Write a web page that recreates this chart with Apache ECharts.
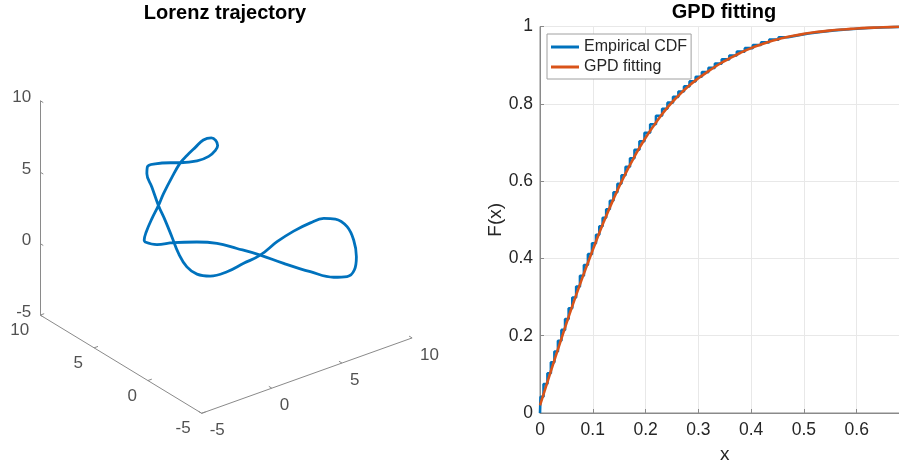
<!DOCTYPE html>
<html><head><meta charset="utf-8">
<script src="https://cdn.jsdelivr.net/npm/echarts@6/dist/echarts.min.js"></script>
<style>html,body{margin:0;padding:0;background:#fff}#c{width:899px;height:468px}</style>
</head><body><div id="c"></div>
<script>
// ---------- Left panel: Lorenz trajectory (3D points) ----------
const lorenzX = [-3.66,-2.82,-2.02,-0.74,0.31,1.35,2.63,3.91,5.43,6.71,7.67,8.19,8.33,8.52,8.05,7.60,6.77,6.20,5.01,4.21,3.01,2.21,1.41,0.21,-0.35,-1.07,-1.28,-1.75,-1.85,-2.33,-2.41,-2.77,-2.34,-1.79,-0.33,0.38,1.96,2.79,3.65,3.81,3.36,2.79,2.22,1.24,0.77,-0.21,-1.20,-1.94,-2.41,-3.20,-3.73,-3.66];
const lorenzY = [2,2,1.5,1,0.5,0,-0.5,-1,-1.5,-2,-2,-2,-2,-1.5,-1.5,-1,-1,-0.5,-0.5,0,0,0.5,1,1,1.5,1.5,2,2,2.5,2.5,3,3,3.5,3.5,4,4,4.5,4.5,5,5,5,5,5,4.5,4.5,4,3.5,3,3,2.5,2,2];
const lorenzZ = [3.31,2.83,2.92,2.74,2.50,2.01,1.33,0.53,-0.36,-0.97,-1.26,-0.97,-0.10,0.77,1.87,2.33,2.67,2.33,2.17,1.48,0.96,0.44,-0.10,0.02,0.13,0.89,1.67,2.99,3.96,5.17,6.25,7.31,7.44,7.44,6.77,6.52,5.86,5.89,5.78,6.07,6.76,6.81,6.49,6.50,6.16,5.72,5.14,4.81,4.05,3.62,3.45,3.31];
const axis3dTicks = [-5, 0, 5, 10];
const axis3dMin = -5, axis3dMax = 10;
const viewAz = -37.5, viewEl = 30;

// ---------- Right panel: GPD fitting ----------
const ecdfX = [0,0.001,0.0067,0.0141,0.0206,0.0273,0.034,0.0406,0.0475,0.0543,0.0612,0.0685,0.0757,0.0832,0.0908,0.0985,0.1061,0.1124,0.1187,0.1254,0.1323,0.1392,0.1467,0.1543,0.1621,0.1705,0.179,0.1884,0.198,0.2087,0.2197,0.2314,0.2415,0.252,0.2622,0.2728,0.2833,0.2949,0.3067,0.3192,0.3313,0.3443,0.3587,0.3729,0.388,0.4032,0.4188,0.4342,0.452,0.47,0.488,0.509,0.532,0.5573,0.586,0.622,0.658,0.7];
const ecdfF = [0,0.042,0.075,0.103,0.131,0.159,0.187,0.215,0.243,0.271,0.299,0.327,0.355,0.383,0.411,0.439,0.461,0.483,0.505,0.527,0.549,0.571,0.593,0.615,0.637,0.659,0.681,0.703,0.725,0.747,0.769,0.787,0.803,0.818,0.832,0.845,0.858,0.870,0.882,0.893,0.904,0.915,0.925,0.935,0.944,0.952,0.959,0.966,0.972,0.977,0.982,0.986,0.990,0.993,0.996,0.998,1.0,1.0];
const gpdX = [0,0.02,0.04,0.06,0.08,0.10,0.12,0.14,0.16,0.18,0.20,0.22,0.24,0.26,0.28,0.30,0.32,0.34,0.36,0.38,0.40,0.42,0.44,0.46,0.48,0.50,0.52,0.54,0.56,0.58,0.60,0.62,0.64,0.66,0.68,0.70];
const gpdF = [0.02,0.106,0.19,0.272,0.349,0.422,0.492,0.556,0.614,0.666,0.712,0.752,0.788,0.818,0.844,0.866,0.885,0.903,0.918,0.932,0.944,0.954,0.963,0.970,0.976,0.981,0.985,0.988,0.991,0.993,0.995,0.9965,0.9975,0.9985,0.9992,0.9996];

// ---------- rendering ----------
const FONT = '"Liberation Sans", Arial, Helvetica, sans-serif';
const TXT = '#262626', AX = '#8a8a8a';
const az = viewAz * Math.PI / 180, el = viewEl * Math.PI / 180;
function proj(x, y, z) {
  return [x * Math.cos(az) + y * Math.sin(az),
          -x * Math.sin(az) * Math.sin(el) + y * Math.cos(az) * Math.sin(el) + z * Math.cos(el)];
}
const lo = axis3dMin, hi = axis3dMax, tl = 0.28;
const traj = lorenzX.map((x, i) => proj(x, lorenzY[i], lorenzZ[i]));
const axisSegs = [
  [[lo, hi, lo], [lo, hi, hi]],
  [[lo, hi, lo], [lo, lo, lo]],
  [[lo, lo, lo], [hi, lo, lo]]
].map(s => ({coords: s.map(p => proj(p[0], p[1], p[2]))}));
const tickSegs = [];
axis3dTicks.forEach(t => {
  tickSegs.push({coords: [proj(lo, hi, t), proj(lo, hi - tl, t)]});
  tickSegs.push({coords: [proj(lo, t, lo), proj(lo + tl, t, lo)]});
  tickSegs.push({coords: [proj(t, lo, lo), proj(t, lo + tl, lo)]});
});
function labelSeries(pts, align, offset) {
  return {
    type: 'scatter', xAxisIndex: 0, yAxisIndex: 0, silent: true,
    symbolSize: 0, itemStyle: {color: 'rgba(0,0,0,0)'},
    data: pts,
    label: {show: true, position: 'inside', formatter: '{b}', align: align, verticalAlign: 'middle',
            offset: offset, color: TXT, fontSize: 17, fontFamily: FONT}
  };
}
const zLab = axis3dTicks.map(t => ({name: String(t), value: proj(lo, hi, t)}));
const yLab = axis3dTicks.map(t => ({name: String(t), value: proj(lo, t, lo)}));
const xLab = axis3dTicks.map(t => ({name: String(t), value: proj(t, lo, lo)}));

const chart = echarts.init(document.getElementById('c'), null, {renderer: 'canvas'});
chart.setOption({
  animation: false,
  backgroundColor: '#fff',
  title: [
    {text: 'Lorenz trajectory', left: 225, top: 3, padding: 0, textAlign: 'center',
     textStyle: {fontFamily: FONT, fontSize: 20, fontWeight: 'bold', color: '#000'}},
    {text: 'GPD fitting', left: 724, top: 2, padding: 0, textAlign: 'center',
     textStyle: {fontFamily: FONT, fontSize: 20, fontWeight: 'bold', color: '#000'}}
  ],
  legend: {
    data: ['Empirical CDF', 'GPD fitting'], orient: 'vertical', left: 547, top: 34,
    padding: [5, 4, 4, 4], itemGap: 4, itemWidth: 28, itemHeight: 3, icon: 'rect',
    backgroundColor: '#fff', borderColor: '#a0a0a0', borderWidth: 1, borderRadius: 0,
    textStyle: {fontFamily: FONT, fontSize: 16, color: TXT}
  },
  grid: [
    {left: 14.7, top: 69.5, width: 442, height: 363, outerBoundsMode: 'none', containLabel: false},
    {left: 540, top: 26.5, width: 369.5, height: 386.5, outerBoundsMode: 'none', containLabel: false,
     show: true, borderColor: AX, borderWidth: 1, backgroundColor: 'transparent'}
  ],
  xAxis: [
    {gridIndex: 0, type: 'value', min: -11.5, max: 13.5, show: false},
    {gridIndex: 1, type: 'value', min: 0, max: 0.7, interval: 0.1,
     name: 'x', nameLocation: 'middle', nameGap: 32,
     nameTextStyle: {fontFamily: FONT, fontSize: 19, color: TXT},
     axisLine: {show: true, lineStyle: {color: AX, width: 1}},
     axisTick: {show: true, inside: true, length: 4, lineStyle: {color: AX}},
     axisLabel: {fontFamily: FONT, fontSize: 17.5, color: TXT, margin: 8, showMaxLabel: false},
     splitLine: {show: true, lineStyle: {color: '#e8e8e8', width: 1}}}
  ],
  yAxis: [
    {gridIndex: 0, type: 'value', min: -9, max: 13, show: false},
    {gridIndex: 1, type: 'value', min: 0, max: 1, interval: 0.2,
     name: 'F(x)', nameLocation: 'middle', nameGap: 35,
     nameTextStyle: {fontFamily: FONT, fontSize: 19, color: TXT},
     axisLine: {show: true, lineStyle: {color: AX, width: 1}},
     axisTick: {show: true, inside: true, length: 4, lineStyle: {color: AX}},
     axisLabel: {fontFamily: FONT, fontSize: 17.5, color: TXT, margin: 7},
     splitLine: {show: true, lineStyle: {color: '#e8e8e8', width: 1}}}
  ],
  series: [
    {type: 'lines', coordinateSystem: 'cartesian2d', xAxisIndex: 0, yAxisIndex: 0, silent: true,
     data: axisSegs, lineStyle: {color: AX, width: 1, opacity: 1, curveness: 0}},
    {type: 'lines', coordinateSystem: 'cartesian2d', xAxisIndex: 0, yAxisIndex: 0, silent: true,
     data: tickSegs, lineStyle: {color: AX, width: 1, opacity: 1, curveness: 0}},
    labelSeries(zLab, 'right', [-9, -3]),
    labelSeries(yLab, 'right', [-11, 15.5]),
    labelSeries(xLab, 'left', [8, 17.4]),
    {type: 'line', xAxisIndex: 0, yAxisIndex: 0, data: traj, showSymbol: false, smooth: 0.4,
     clip: false, lineStyle: {color: '#0072BD', width: 2.8, join: 'round', cap: 'round'}},
    {name: 'Empirical CDF', type: 'line', xAxisIndex: 1, yAxisIndex: 1, step: 'end',
     data: ecdfX.map((x, i) => [x, ecdfF[i]]), showSymbol: false, color: '#0072BD',
     lineStyle: {color: '#0072BD', width: 2.6}},
    {name: 'GPD fitting', type: 'line', xAxisIndex: 1, yAxisIndex: 1, smooth: true,
     data: gpdX.map((x, i) => [x, gpdF[i]]), showSymbol: false, color: '#D95319',
     lineStyle: {color: '#D95319', width: 2.6}}
  ]
});
</script></body></html>
